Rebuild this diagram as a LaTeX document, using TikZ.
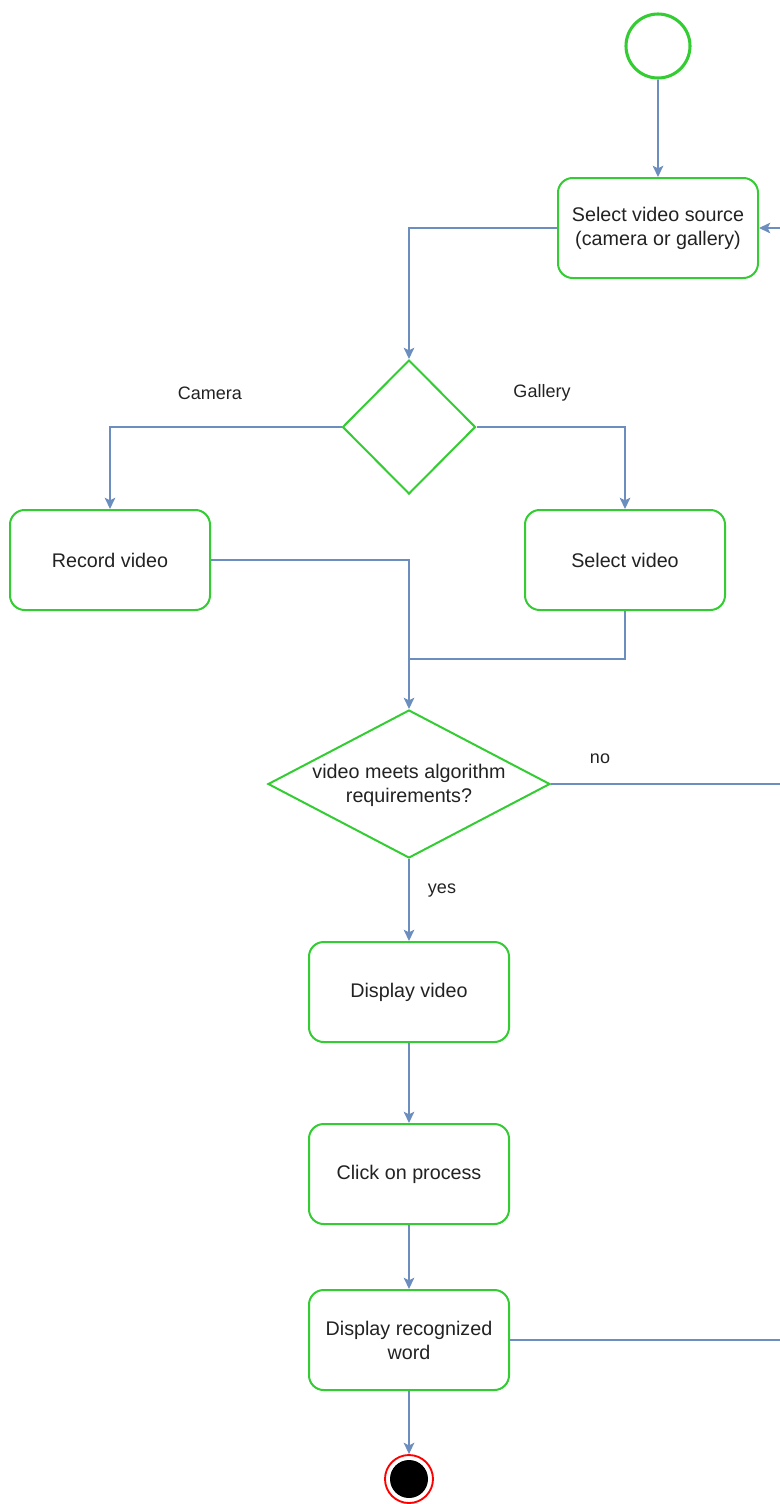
\documentclass[tikz,border=0pt]{standalone}
\usepackage{fontspec}
\setmainfont{Liberation Sans}
\usetikzlibrary{arrows.meta,shapes.geometric}
\definecolor{flowblue}{RGB}{108,142,191}
\definecolor{actgreen}{RGB}{51,204,51}
\definecolor{inkgray}{RGB}{34,34,34}
\begin{document}
\begin{tikzpicture}[x=0.75pt,y=-0.75pt,
  act/.style={draw=actgreen, line width=1.5pt, rounded corners=11pt,
    minimum width=150pt, minimum height=75pt, align=center,
    font=\fontsize{14.8}{18}\selectfont, text=inkgray, inner sep=0pt},
  dia/.style={draw=actgreen, line width=1.5pt, diamond, inner sep=0pt},
  diatext/.style={align=center, font=\fontsize{14.8}{18}\selectfont,
    text=inkgray, inner sep=0pt},
  flow/.style={draw=flowblue, line width=1.1pt,
    -{Stealth[length=8.5pt,width=8pt,inset=2pt]}},
  link/.style={draw=flowblue, line width=1.1pt},
  lbl/.style={font=\fontsize{13.5}{16}\selectfont, text=inkgray, inner sep=0pt},
]
\useasboundingbox (0,0) rectangle (780,1504);
\clip (0,0) rectangle (780,1504);

% initial and final states
\node[circle, draw=actgreen, line width=2.3pt, minimum size=48pt, inner sep=0pt] (start) at (658,46) {};
\node[circle, draw=red, line width=1.4pt, minimum size=36pt, inner sep=0pt] (end) at (409,1479) {};
\node[circle, fill=black, minimum size=28.5pt, inner sep=0pt] (endcore) at (end) {};

% activities
\node[act] (src) at (658,228) {Select video source\\(camera or gallery)};
\node[act] (rec) at (110,560) {Record video};
\node[act] (sel) at (625,560) {Select video};
\node[act] (disp) at (409,992) {Display video};
\node[act] (click) at (409,1174) {Click on process};
\node[act] (word) at (409,1340) {Display recognized\\word};

% decisions
\node[dia, minimum width=99.75pt, minimum height=100.5pt] (d1) at (409,427) {};
\node[dia, minimum width=211.5pt, minimum height=111pt] (d2) at (409,784) {};
\node[diatext] (d2text) at (409,785) {video meets algorithm\\requirements?};

% guard labels
\node[lbl] (camlbl) at (210,393) {Camera};
\node[lbl] (gallbl) at (542,393) {Gallery};
\node[lbl] (nolbl) at (600,759) {no};
\node[lbl] (yeslbl) at (442,891) {yes};

% routing points
\coordinate (merge) at (409,659);
\coordinate (railno) at (800,784);
\coordinate (railword) at (800,1340);

% connectors
\draw[flow] (start) -- (src);
\draw[flow] (src.west) -| (d1.north);
\draw[flow] (d1.west) -| (rec.north);
\draw[flow] (d1.east) -| (sel.north);
\draw[flow] (rec.east) -| (d2.north);
\draw[link] (sel.south) |- (merge);
\draw[flow] (d2.south) -- (disp.north);
\draw[flow] (disp) -- (click);
\draw[flow] (click) -- (word);
\draw[flow] (word) -- (end);
\draw[flow] (d2.east) -- (railno) |- (src.east);
\draw[link] (word.east) -- (railword);
\end{tikzpicture}
\end{document}
